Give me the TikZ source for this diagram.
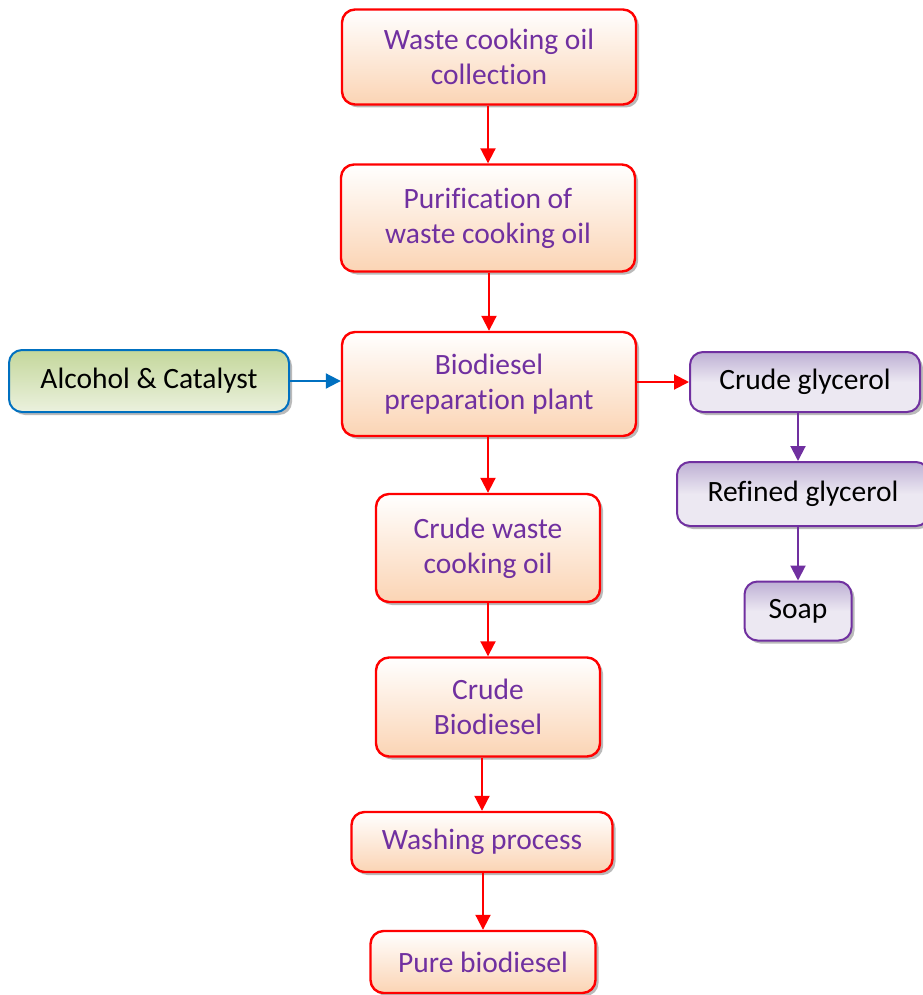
\documentclass[tikz,border=0pt]{standalone}
\usepackage{fontspec}
\setmainfont[Ligatures=CommonOff]{Carlito}
\usetikzlibrary{arrows.meta, shadows}
\definecolor{peach}{RGB}{251,212,180}
\definecolor{violet}{RGB}{112,48,160}
\definecolor{lilac}{RGB}{190,176,212}
\definecolor{lilacl}{RGB}{236,232,242}
\definecolor{olive}{RGB}{196,215,155}
\definecolor{olivel}{RGB}{235,241,222}
\definecolor{azure}{RGB}{0,112,192}
\tikzstyle{box}=[rounded corners=13pt,inner sep=0pt,align=center,font=\fontsize{29.5}{35}\selectfont,drop shadow={shadow xshift=3pt,shadow yshift=-3pt,fill=black!45,opacity=.6}]
\tikzstyle{proc}=[box,draw=red,line width=2.4pt,top color=white,bottom color=peach,text=violet]
\tikzstyle{feed}=[box,draw=azure,line width=2pt,top color=olive,bottom color=olivel]
\tikzstyle{glyc}=[box,draw=violet,line width=2pt,top color=lilac,bottom color=lilacl,middle color=lilacl]
\tikzstyle{flow}=[line width=2pt,-{Triangle[length=15pt,width=15pt]}]

\begin{document}
\begin{tikzpicture}[x=1pt,y=-1pt]
    \useasboundingbox (0,0) rectangle (922,995);
    % main line
    \node[proc,minimum width=294pt,minimum height=95pt] (coll) at (489,57) {Waste cooking oil\\collection};
    \node[proc,minimum width=294pt,minimum height=107pt] (puri) at (488,218) {Purification of\\waste cooking oil};
    \node[proc,minimum width=294pt,minimum height=104pt] (plant) at (489,384) {Biodiesel\\preparation plant};
    \node[proc,minimum width=224pt,minimum height=108pt] (crudeoil) at (488,548) {Crude waste\\cooking oil};
    \node[proc,minimum width=224pt,minimum height=99pt] (crudebio) at (488,707) {Crude\\Biodiesel};
    \node[proc,minimum width=261pt,minimum height=60pt] (wash) at (482,842) {Washing process};
    \node[proc,minimum width=225pt,minimum height=62pt] (pure) at (483,962) {Pure biodiesel};
    % side branches
    \node[feed,minimum width=280pt,minimum height=62pt] (alc) at (149,381) {Alcohol \& Catalyst};
    \node[glyc,minimum width=230pt,minimum height=60pt] (gly) at (805,382) {Crude glycerol};
    \node[glyc,minimum width=252pt,minimum height=64pt] (refgly) at (803,494) {Refined glycerol};
    \node[glyc,minimum width=107pt,minimum height=59pt] (soap) at (798,611) {Soap};
    \foreach \a/\b in {coll/puri, puri/plant, plant/crudeoil, crudeoil/crudebio, crudebio/wash, wash/pure}
        \draw[flow,red] (\a.south -| \b.north) -- (\b.north);
    \draw[flow,azure] (alc.east) -- (alc.east -| plant.west);
    \draw[flow,red] (gly.west -| plant.east) -- (gly.west);
    \foreach \a/\b in {gly/refgly, refgly/soap}
        \draw[flow,violet] (\a.south -| soap) -- (\b.north -| soap);
\end{tikzpicture}
\end{document}
